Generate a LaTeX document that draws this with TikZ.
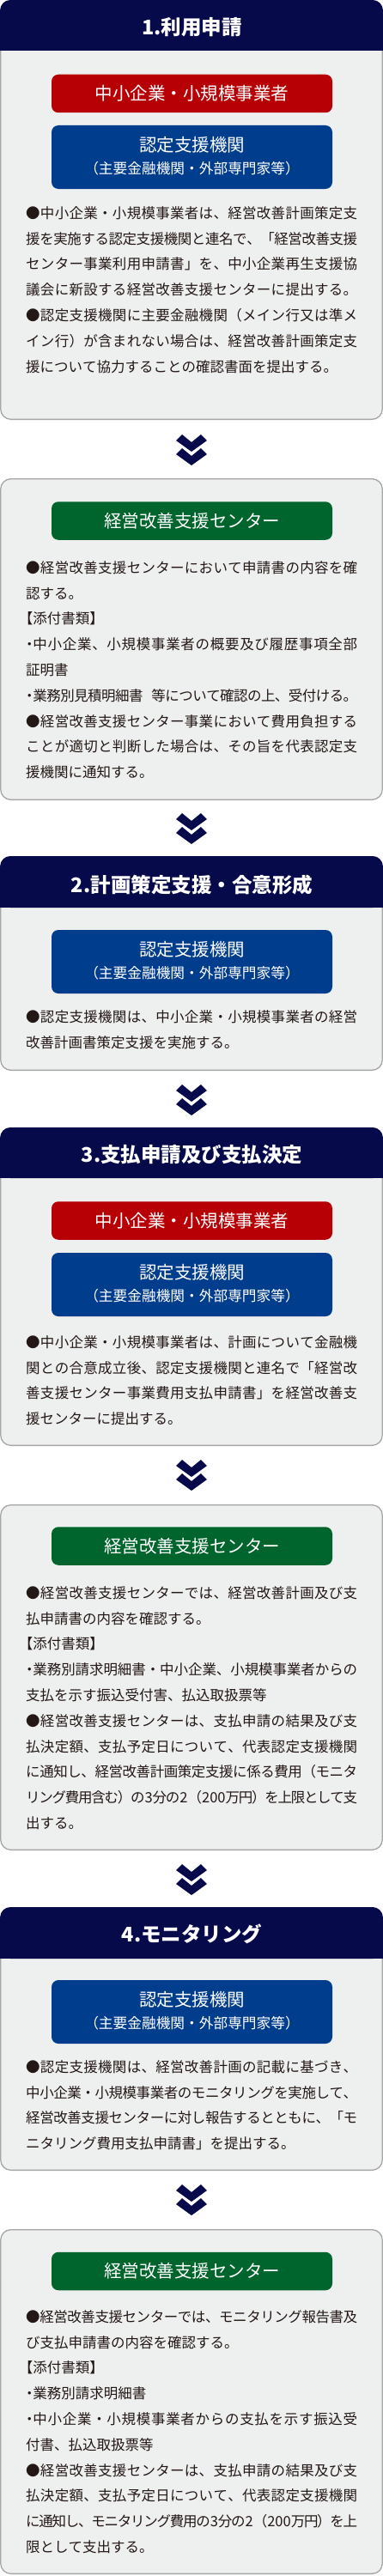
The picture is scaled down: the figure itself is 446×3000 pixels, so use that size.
\documentclass[tikz,border=0pt]{standalone}
\usepackage{fontspec}
\setmainfont{Noto Sans CJK JP}
\newfontfamily\jphalt{Noto Sans CJK JP}[RawFeature=+halt]

% inter-character glue for justified Japanese lines
\newXeTeXintercharclass\jpcls
\newcount\jpc
\def\jpassign#1#2{\jpc=#1\relax\loop\XeTeXcharclass\jpc=\jpcls\relax\ifnum\jpc<#2\relax\advance\jpc by 1\repeat}
\jpassign{"3000}{"30FF}
\jpassign{"4E00}{"9FFF}
\jpassign{"FF00}{"FFEF}
\XeTeXcharclass"25CF=\jpcls
\XeTeXinterchartoks\jpcls\jpcls={\hskip 0pt plus 4pt minus 4pt\relax}

\definecolor{navy}{RGB}{7,10,74}
\definecolor{jred}{RGB}{183,0,6}
\definecolor{jblue}{RGB}{0,61,141}
\definecolor{jgreen}{RGB}{0,101,45}
\definecolor{panel}{RGB}{238,239,239}
\definecolor{panelline}{RGB}{165,165,165}
\definecolor{txt}{RGB}{35,24,21}

\newcommand\bodyfont{\fontsize{16.5}{20}\selectfont\XeTeXinterchartokenstate=1\relax}
\newcommand\labfont{\fontsize{20.5}{24}\selectfont}
\newcommand\subfont{\fontsize{16.7}{20}\selectfont}
\newcommand\titfont{\fontsize{23.5}{28}\selectfont\bfseries}
\newcommand\jl[1]{\hbox to 386pt{#1}}
\newcommand\hw[1]{{\jphalt #1}}

\tikzset{
  panelbox/.style={fill=panel, draw=panelline, line width=1.3pt, rounded corners=12pt},
  headtitle/.style={text=white, inner sep=0pt, font=\titfont},
  labelbox/.style={rounded corners=8pt, minimum width=327pt, minimum height=44.5pt, inner sep=0pt, text=white, font=\labfont},
  bluebox/.style={rounded corners=8pt, fill=jblue, minimum width=327pt, minimum height=74pt, inner sep=0pt},
  bluemain/.style={text=white, inner sep=0pt, font=\labfont},
  bluesub/.style={text=white, inner sep=0pt, font=\subfont},
  bodyline/.style={anchor=base west, inner sep=0pt, text=txt, font=\bodyfont},
}

\newcommand\headpanel[3]{%
  \draw[panelbox] (0.75,#1+0.65) rectangle (445.25,#3-0.65);
  \fill[navy, rounded corners=12pt] (0.1,#1) rectangle (445.9,#2);
  \fill[navy] (0.1,#2-14) rectangle (445.9,#2);
}
\newcommand\plainpanel[2]{%
  \draw[panelbox] (0.75,#1+0.65) rectangle (445.25,#2-0.65);
}
\newcommand\chevron[1]{\fill[navy] (205,#1+7) -- (212,#1) -- (223,#1+9) -- (234,#1) -- (241,#1+7) -- (223,#1+20) -- cycle;}
\newcommand\chevpair[1]{\chevron{#1}\chevron{#1+16}}
\newcommand\bodyblock[3]{%
  \foreach \bl [count=\i] in {#3} {%
    \pgfmathsetmacro\yy{#2+6.3+(\i-1)*29.8}%
    \node[bodyline] (#1-\i) at (30,\yy) {\bl};
  }%
}
\newcommand\blueunit[2]{%
  \node[bluebox] (#1) at (223.5,#2+37) {};
  \node[bluemain] (#1a) at (223.5,#2+23) {認定支援機関};
  \node[bluesub] (#1b) at (223.5,#2+50.5) {（主要金融機関・外部専門家等）};
}

\begin{document}
\begin{tikzpicture}[x=1pt,y=-1pt]
\useasboundingbox (0,0) rectangle (446,3000);

% ---------- 1 ----------
\headpanel{0}{59}{489}
\node[headtitle] (h1) at (223.5,32) {1.利用申請};
\node[labelbox, fill=jred] (r1) at (223.5,109) {中小企業・小規模事業者};
\blueunit{b1}{146}
\bodyblock{p1}{248}{%
\jl{●中小企業・小規模事業者は、経営改善計画策定支},
\jl{援を実施する認定支援機関と連名で、「経営改善支援},
\jl{センター事業利用申請書」を、中小企業再生支援協},
\jl{議会に新設する経営改善支援センターに提出する。},
\jl{●認定支援機関に主要金融機関（メイン行又は準メ},
\jl{イン行）が含まれない場合は、経営改善計画策定支},
援について協力することの確認書面を提出する。}

\chevpair{506}

\plainpanel{557}{932}
\node[labelbox, fill=jgreen] (g1) at (223.5,606.5) {経営改善支援センター};
\bodyblock{p2}{661}{%
\jl{●経営改善支援センターにおいて申請書の内容を確},
認する。,
\hw{【}添付書類\hw{】},
\jl{\hw{・}中小企業、小規模事業者の概要及び履歴事項全部},
証明書,
\jl{\hw{・}業務別見積明細書\hspace{0.6em}等について確認の上、受付ける。},
\jl{●経営改善支援センター事業において費用負担する},
\jl{ことが適切と判断した場合は、その旨を代表認定支},
援機関に通知する。}

\chevpair{947}

% ---------- 2 ----------
\headpanel{997}{1057}{1247}
\node[headtitle] (h2) at (223.5,1031) {2.計画策定支援・合意形成};
\blueunit{b2}{1083}
\bodyblock{p3}{1184}{%
\jl{●認定支援機関は、中小企業・小規模事業者の経営},
改善計画書策定支援を実施する。}

\chevpair{1263}

% ---------- 3 ----------
\headpanel{1313}{1372}{1684}
\node[headtitle] (h3) at (223.5,1345) {3.支払申請及び支払決定};
\node[labelbox, fill=jred] (r3) at (223.5,1421.5) {中小企業・小規模事業者};
\blueunit{b3}{1459}
\bodyblock{p4}{1563}{%
\jl{●中小企業・小規模事業者は、計画について金融機},
\jl{関との合意成立後、認定支援機関と連名で「経営改},
\jl{善支援センター事業費用支払申請書」を経営改善支},
援センターに提出する。}

\chevpair{1700}

\plainpanel{1752}{2155}
\node[labelbox, fill=jgreen] (g3) at (223.5,1800.5) {経営改善支援センター};
\bodyblock{p5}{1855}{%
\jl{●経営改善支援センターでは、経営改善計画及び支},
払申請書の内容を確認する。,
\hw{【}添付書類\hw{】},
\jl{\hw{・}業務別請求明細書・中小企業、小規模事業者からの},
支払を示す振込受付害、払込取扱票等,
\jl{●経営改善支援センターは、支払申請の結果及び支},
\jl{払決定額、支払予定日について、代表認定支援機関},
\jl{に通知し、経営改善計画策定支援に係る費用（モニタ},
\jl{リング費用含む）の3分の2（200万円）を上限として支},
出する。}

\chevpair{2171}

% ---------- 4 ----------
\headpanel{2221}{2281}{2528}
\node[headtitle] (h4) at (223.5,2252) {4.モニタリング};
\blueunit{b4}{2306}
\bodyblock{p6}{2407}{%
\jl{●認定支援機関は、経営改善計画の記載に基づき、},
\jl{中小企業・小規模事業者のモニタリングを実施して、},
\jl{経営改善支援センターに対し報告するとともに、「モ},
ニタリング費用支払申請書」を提出する。}

\chevpair{2544}

\plainpanel{2596}{2998}
\node[labelbox, fill=jgreen] (g4) at (223.5,2645) {経営改善支援センター};
\bodyblock{p7}{2698}{%
\jl{●経営改善支援センターでは、モニタリング報告書及},
び支払申請書の内容を確認する。,
\hw{【}添付書類\hw{】},
\hw{・}業務別請求明細書,
\jl{\hw{・}中小企業・小規模事業者からの支払を示す振込受},
付書、払込取扱票等,
\jl{●経営改善支援センターは、支払申請の結果及び支},
\jl{払決定額、支払予定日について、代表認定支援機関},
\jl{に通知し、モニタリング費用の3分の2（200万円）を上},
限として支出する。}

\end{tikzpicture}
\end{document}
